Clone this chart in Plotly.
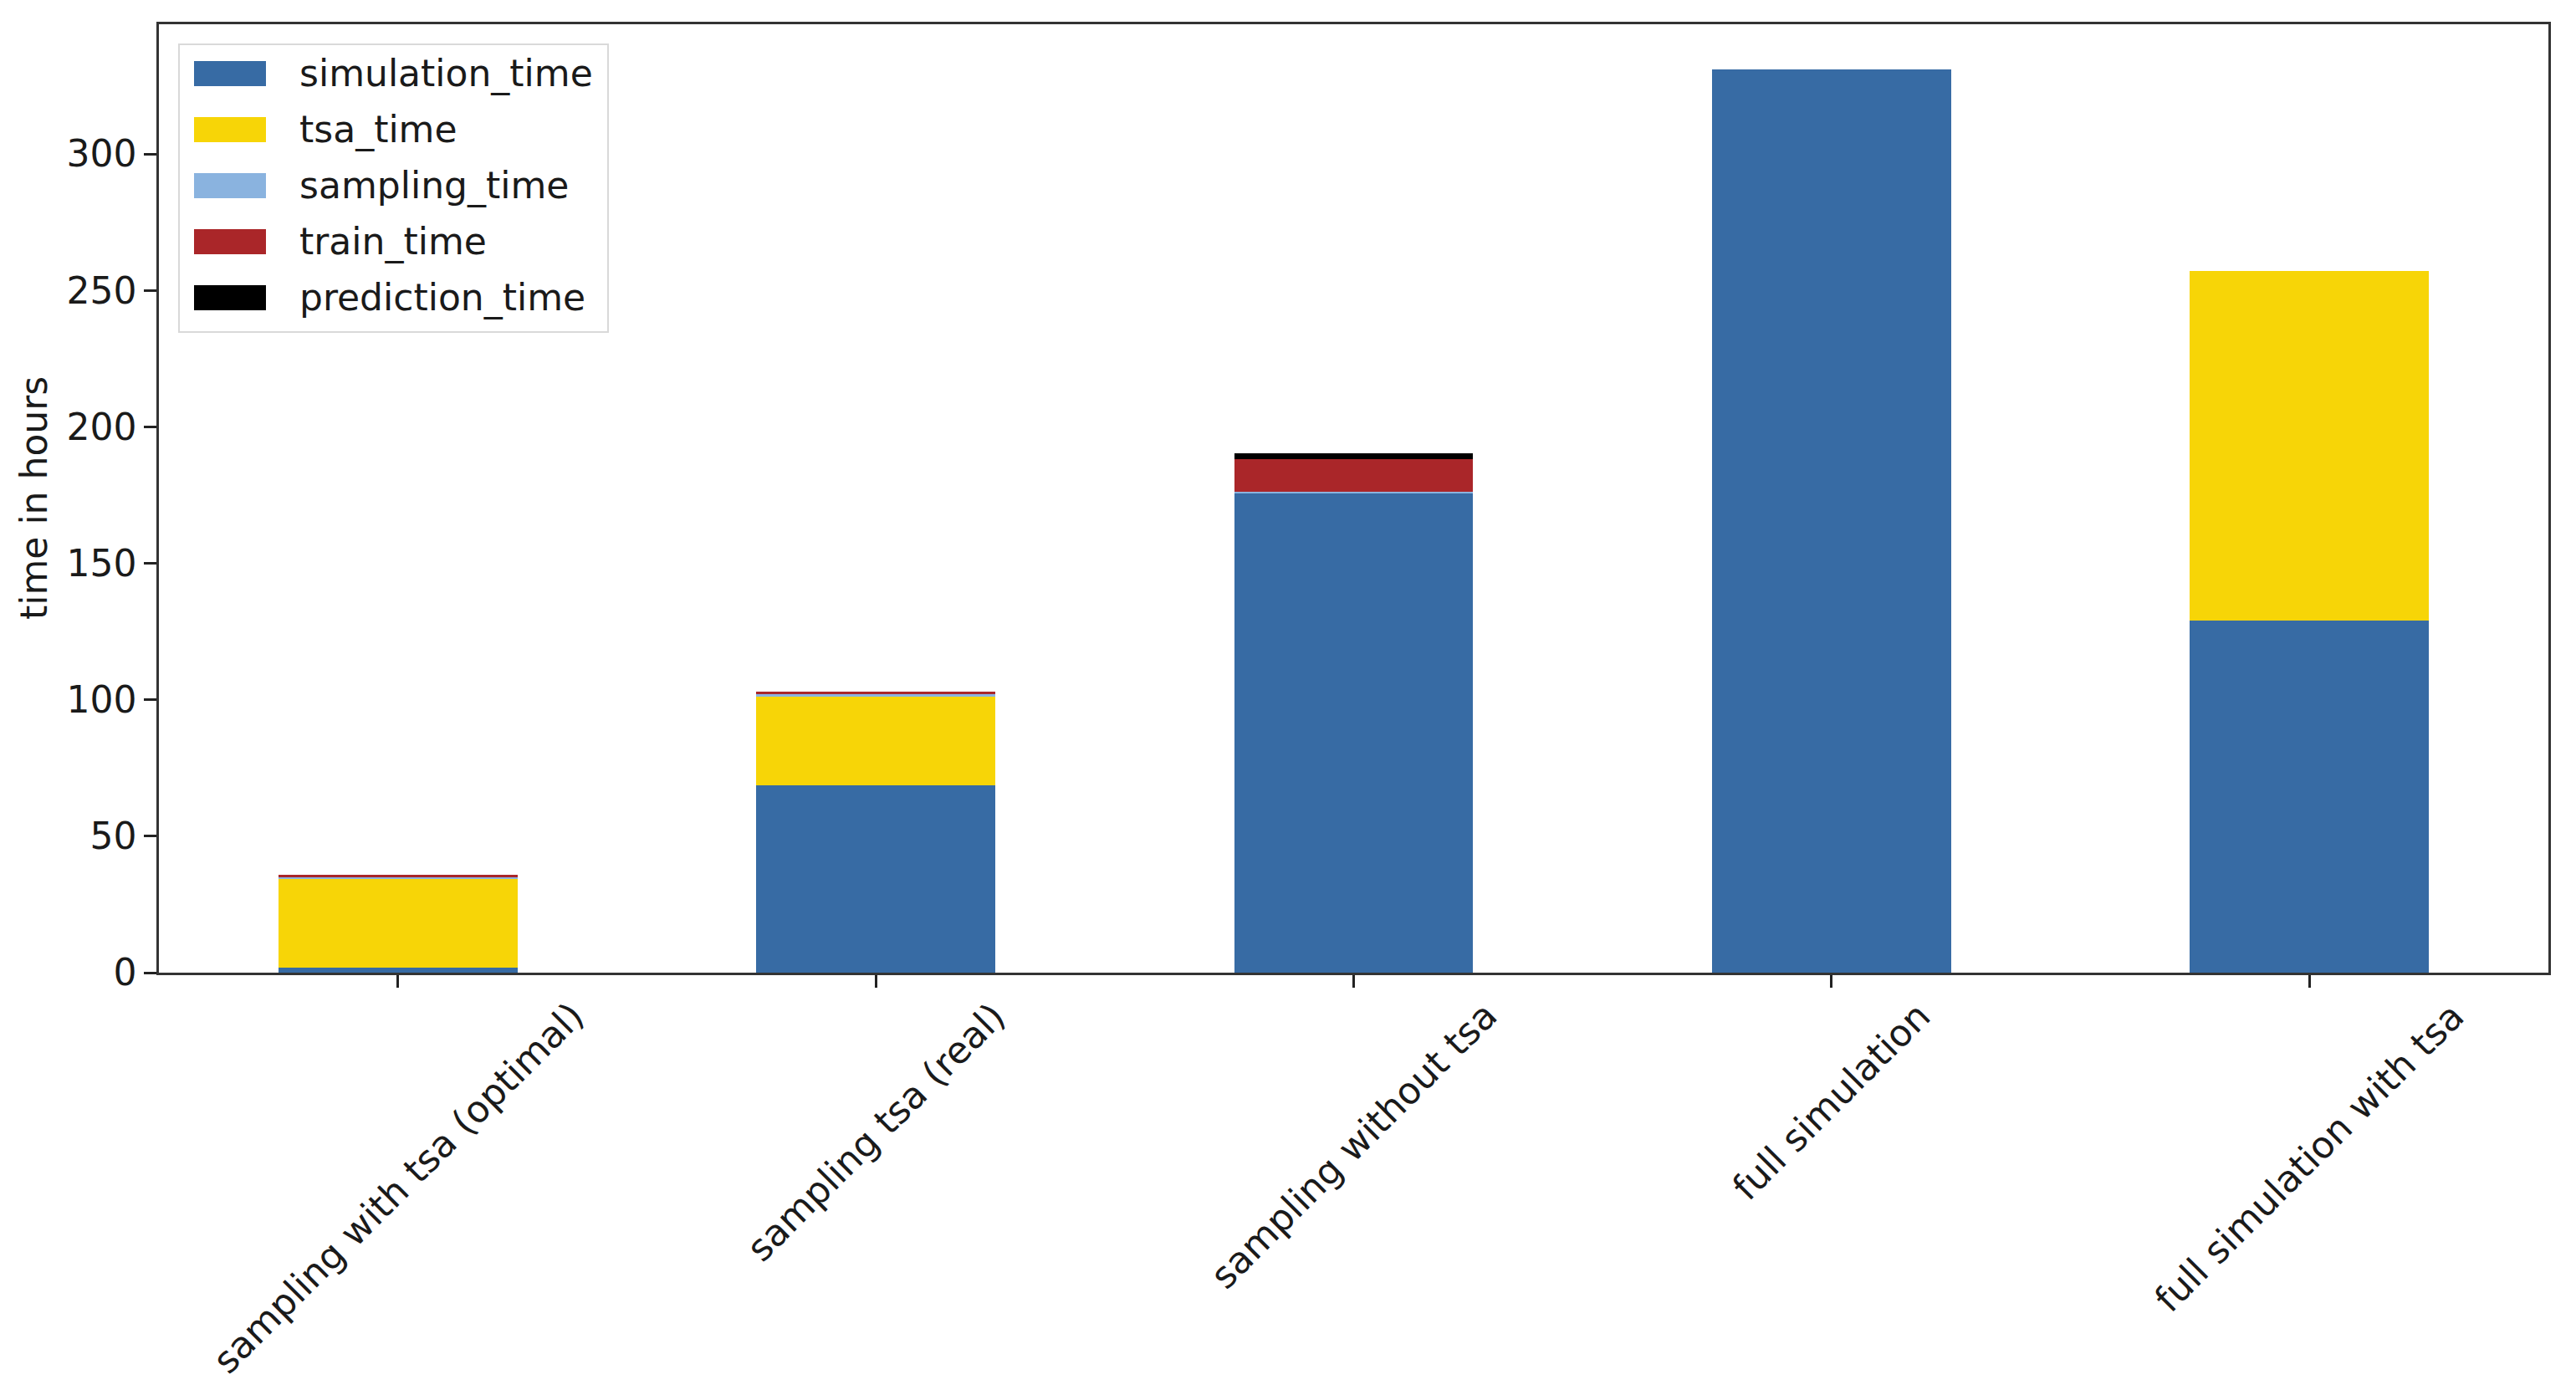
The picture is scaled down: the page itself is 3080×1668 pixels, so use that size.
import plotly.graph_objects as go

categories = ["sampling with tsa (optimal)", "sampling tsa (real)", "sampling without tsa",
              "full simulation", "full simulation with tsa"]
simulation_time = [1.8, 68.5, 175.8, 331.0, 129.0]
tsa_time = [32.6, 32.8, 0.0, 0.0, 128.0]
sampling_time = [0.6, 0.6, 0.5, 0.0, 0.0]
train_time = [1.0, 1.0, 12.0, 0.0, 0.0]
prediction_time = [0.0, 0.0, 2.1, 0.0, 0.0]

series_names = ["simulation_time", "tsa_time", "sampling_time", "train_time", "prediction_time"]
series_values = [simulation_time, tsa_time, sampling_time, train_time, prediction_time]
series_colors = ["#376BA4", "#F7D507", "#8AB3DF", "#AA2629", "#000000"]
y_ticks = [0, 50, 100, 150, 200, 250, 300]

PAGE_W, PAGE_H = 3080, 1668
OFF = 8  # default body margin of the html page
W, H = PAGE_W - 2 * OFF, PAGE_H - 2 * OFF
L, R, T, B = 190, 3047, 29, 1163   # plot area in page pixels
FONT = "DejaVu Sans"
FS = 44
TXT = "#1a1a1a"

def px_x(p):
    return (p - L) / (R - L)

def px_y(p):
    return (B - p) / (B - T)

fig = go.Figure()
for name, vals, col in zip(series_names, series_values, series_colors):
    fig.add_trace(go.Bar(x=categories, y=vals, name=name, width=0.5,
                         marker=dict(color=col, line=dict(width=0)), showlegend=False))

annotations = []
for c in categories:
    annotations.append(dict(x=c, xref="x", y=px_y(1186), yref="paper", text=c,
                            showarrow=False, textangle=-45, xanchor="center", yanchor="top",
                            font=dict(family=FONT, size=FS, color=TXT)))
annotations.append(dict(x=px_x(40), xref="paper", y=0.5, yref="paper", text="time in hours",
                        showarrow=False, textangle=-90, xanchor="center", yanchor="middle",
                        font=dict(family=FONT, size=FS, color=TXT)))

shapes = [dict(type="rect", xref="paper", yref="paper",
               x0=px_x(214), x1=px_x(727), y0=px_y(397), y1=px_y(53),
               line=dict(color="#d9d9d9", width=2), fillcolor="rgba(255,255,255,0.8)", layer="above")]
row_centers = [88, 155, 222, 289, 356]
for name, col, yc in zip(series_names, series_colors, row_centers):
    shapes.append(dict(type="rect", xref="paper", yref="paper",
                       x0=px_x(232), x1=px_x(318), y0=px_y(yc + 15), y1=px_y(yc - 15),
                       line=dict(width=0), fillcolor=col, layer="above"))
    annotations.append(dict(x=px_x(356), xref="paper", y=px_y(yc), yref="paper", text=name,
                            showarrow=False, xanchor="left", yanchor="middle",
                            font=dict(family=FONT, size=FS, color=TXT)))

fig.update_layout(
    width=W, height=H, barmode="stack",
    margin=dict(l=L - OFF, r=PAGE_W - R - OFF, t=T - OFF, b=PAGE_H - B - OFF, pad=0),
    paper_bgcolor="white", plot_bgcolor="white",
    font=dict(family=FONT, size=FS, color=TXT),
    annotations=annotations, shapes=shapes,
    xaxis=dict(range=[-0.5, 4.5], showticklabels=False, ticks="outside", ticklen=15, tickwidth=2.5,
               tickcolor="#222", showgrid=False, showline=True, linecolor="#333", linewidth=2.5,
               mirror=True, zeroline=False),
    yaxis=dict(range=[0, 347.5], tickvals=y_ticks, ticks="outside", ticklen=15, tickwidth=2.5,
               tickcolor="#222", showgrid=False, showline=True, linecolor="#333", linewidth=2.5,
               mirror=True, zeroline=False, tickfont=dict(family=FONT, size=FS, color=TXT)),
)

fig.write_html("out.html")
